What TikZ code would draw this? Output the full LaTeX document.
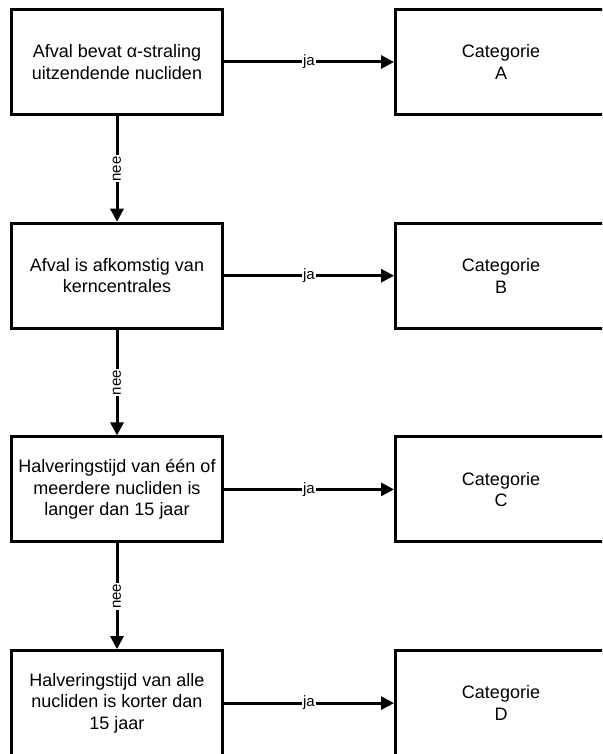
\documentclass[tikz,border=0pt]{standalone}
\usepackage{fontspec}
\setmainfont{Liberation Sans}
\usetikzlibrary{arrows.meta}
\tikzset{
  qbox/.style={draw=black, fill=white, line width=3pt, minimum width=211pt, minimum height=105pt, inner sep=2pt, align=center, font=\fontsize{18}{21.6}\selectfont},
  catbox/.style={qbox},
  arr/.style={-{Triangle[length=13pt,width=13pt]}, line width=3pt, draw=black},
  lbl/.style={fill=white, inner sep=1pt, font=\fontsize{15}{17}\selectfont}
}
\begin{document}
\begin{tikzpicture}[x=1pt,y=1pt]
\useasboundingbox (0,0) rectangle (602,-754);
\clip (0,0) rectangle (602,-754);
\foreach \i/\txt in {1/{Afval bevat α-straling\\uitzendende nucliden},
                     2/{Afval is afkomstig van\\kerncentrales},
                     3/{Halveringstijd van één of\\meerdere nucliden is\\langer dan 15 jaar},
                     4/{Halveringstijd van alle\\nucliden is korter dan\\15 jaar}}{
  \node[qbox] (q\i) at (117,{-62-213.7*(\i-1)}) {\txt};
}
\foreach \i/\ch in {1/A,2/B,3/C,4/D}{
  \node[catbox] (cat\i) at (501,{-62-213.7*(\i-1)}) {Categorie\\\ch};
}
% ja naar rechts
\foreach \i in {1,...,4}{
  \draw[arr] (q\i) -- node[lbl] {ja} (cat\i);
}
% nee naar beneden
\foreach \i/\j in {1/2,2/3,3/4}{
  \draw[arr] (q\i) -- node[lbl,rotate=90] {nee} (q\j);
}
\end{tikzpicture}
\end{document}
